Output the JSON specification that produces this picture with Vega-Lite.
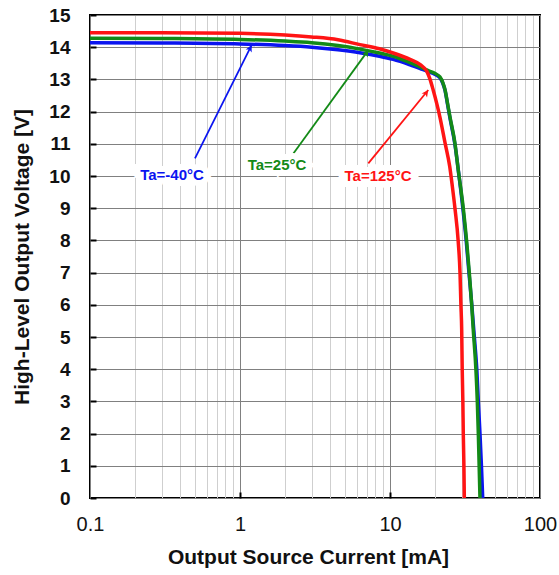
{
  "$schema": "https://vega.github.io/schema/vega-lite/v6.json",
  "width": 450,
  "height": 483,
  "autosize": {"type": "none"},
  "padding": {"left": 90, "top": 15, "right": 19, "bottom": 77},
  "background": "white",
  "config": {
    "view": {"stroke": "#000000", "strokeWidth": 2},
    "font": "Liberation Sans"
  },
  "datasets": {
    "curves": [
      {"series": "-40", "current": 0.1, "voltage": 14.14},
      {"series": "-40", "current": 0.3, "voltage": 14.13},
      {"series": "-40", "current": 1, "voltage": 14.1},
      {"series": "-40", "current": 2, "voltage": 14.05},
      {"series": "-40", "current": 3, "voltage": 14.0},
      {"series": "-40", "current": 4.5, "voltage": 13.92},
      {"series": "-40", "current": 6.3, "voltage": 13.83},
      {"series": "-40", "current": 8.5, "voltage": 13.72},
      {"series": "-40", "current": 10.5, "voltage": 13.62},
      {"series": "-40", "current": 13.6, "voltage": 13.45},
      {"series": "-40", "current": 16, "voltage": 13.33},
      {"series": "-40", "current": 18, "voltage": 13.24},
      {"series": "-40", "current": 20, "voltage": 13.15},
      {"series": "-40", "current": 21.5, "voltage": 13.05},
      {"series": "-40", "current": 22.5, "voltage": 12.88},
      {"series": "-40", "current": 23.3, "voltage": 12.65},
      {"series": "-40", "current": 24.2, "voltage": 12.22},
      {"series": "-40", "current": 25.1, "voltage": 11.8},
      {"series": "-40", "current": 27.1, "voltage": 10.98},
      {"series": "-40", "current": 28.6, "voltage": 10.15},
      {"series": "-40", "current": 30.6, "voltage": 9.0},
      {"series": "-40", "current": 32.2, "voltage": 8.0},
      {"series": "-40", "current": 33.6, "voltage": 7.0},
      {"series": "-40", "current": 35.1, "voltage": 6.0},
      {"series": "-40", "current": 36.5, "voltage": 5.0},
      {"series": "-40", "current": 37.9, "voltage": 4.0},
      {"series": "-40", "current": 38.8, "voltage": 3.0},
      {"series": "-40", "current": 39.8, "voltage": 2.0},
      {"series": "-40", "current": 40.7, "voltage": 1.0},
      {"series": "-40", "current": 41.5, "voltage": 0},
      {"series": "25", "current": 0.1, "voltage": 14.28},
      {"series": "25", "current": 0.3, "voltage": 14.27},
      {"series": "25", "current": 1, "voltage": 14.24},
      {"series": "25", "current": 2, "voltage": 14.19},
      {"series": "25", "current": 3, "voltage": 14.14},
      {"series": "25", "current": 4.5, "voltage": 14.05},
      {"series": "25", "current": 6.3, "voltage": 13.94},
      {"series": "25", "current": 8.5, "voltage": 13.82},
      {"series": "25", "current": 10.5, "voltage": 13.72},
      {"series": "25", "current": 13.6, "voltage": 13.52},
      {"series": "25", "current": 16, "voltage": 13.38},
      {"series": "25", "current": 18, "voltage": 13.27},
      {"series": "25", "current": 20, "voltage": 13.18},
      {"series": "25", "current": 21.5, "voltage": 13.08},
      {"series": "25", "current": 22.5, "voltage": 12.9},
      {"series": "25", "current": 23.3, "voltage": 12.67},
      {"series": "25", "current": 24.2, "voltage": 12.25},
      {"series": "25", "current": 25.1, "voltage": 11.84},
      {"series": "25", "current": 27.1, "voltage": 11.02},
      {"series": "25", "current": 28.5, "voltage": 10.19},
      {"series": "25", "current": 30.8, "voltage": 9.0},
      {"series": "25", "current": 32.45, "voltage": 7.96},
      {"series": "25", "current": 33.8, "voltage": 6.98},
      {"series": "25", "current": 35.06, "voltage": 5.99},
      {"series": "25", "current": 35.9, "voltage": 5.22},
      {"series": "25", "current": 37.4, "voltage": 3.98},
      {"series": "25", "current": 38.2, "voltage": 3.0},
      {"series": "25", "current": 38.8, "voltage": 2.0},
      {"series": "25", "current": 39.3, "voltage": 1.0},
      {"series": "25", "current": 39.8, "voltage": 0},
      {"series": "125", "current": 0.1, "voltage": 14.45},
      {"series": "125", "current": 0.3, "voltage": 14.45},
      {"series": "125", "current": 1, "voltage": 14.43},
      {"series": "125", "current": 2, "voltage": 14.38},
      {"series": "125", "current": 3, "voltage": 14.32},
      {"series": "125", "current": 4.5, "voltage": 14.23},
      {"series": "125", "current": 6.3, "voltage": 14.08},
      {"series": "125", "current": 8.5, "voltage": 13.95},
      {"series": "125", "current": 10.5, "voltage": 13.82},
      {"series": "125", "current": 13.6, "voltage": 13.62},
      {"series": "125", "current": 16, "voltage": 13.45},
      {"series": "125", "current": 17.6, "voltage": 13.25},
      {"series": "125", "current": 18.5, "voltage": 13.0},
      {"series": "125", "current": 19.4, "voltage": 12.67},
      {"series": "125", "current": 20.5, "voltage": 12.25},
      {"series": "125", "current": 21.5, "voltage": 11.84},
      {"series": "125", "current": 23.3, "voltage": 11.02},
      {"series": "125", "current": 25, "voltage": 10.3},
      {"series": "125", "current": 26, "voltage": 9.7},
      {"series": "125", "current": 27.1, "voltage": 9.0},
      {"series": "125", "current": 28.5, "voltage": 7.96},
      {"series": "125", "current": 29.3, "voltage": 6.98},
      {"series": "125", "current": 29.7, "voltage": 6.0},
      {"series": "125", "current": 30.06, "voltage": 5.22},
      {"series": "125", "current": 30.3, "voltage": 4.0},
      {"series": "125", "current": 30.6, "voltage": 3.0},
      {"series": "125", "current": 30.8, "voltage": 2.0},
      {"series": "125", "current": 31.1, "voltage": 1.0},
      {"series": "125", "current": 31.3, "voltage": 0}
    ],
    "arrows": [
      {"series": "-40", "current": 1.197, "voltage": 14.07, "current2": 0.501, "voltage2": 10.55},
      {"series": "25", "current": 7.17, "voltage": 13.91, "current2": 2.27, "voltage2": 10.7},
      {"series": "125", "current": 17.99, "voltage": 12.67, "current2": 7.17, "voltage2": 10.39}
    ],
    "labels": [
      {"series": "-40", "text": "Ta=-40°C", "current": 0.352, "voltage": 10.03},
      {"series": "25", "text": "Ta=25°C", "current": 1.766, "voltage": 10.34},
      {"series": "125", "text": "Ta=125°C", "current": 8.32, "voltage": 10.0}
    ]
  },
  "encoding": {
    "x": {
      "field": "current",
      "type": "quantitative",
      "scale": {"type": "log", "domain": [0.1, 100]},
      "axis": {
        "title": "Output Source Current [mA]",
        "titleFontSize": 21,
        "titleFontWeight": "bold",
        "titleColor": "#111111",
        "titleBaseline": "middle",
        "titleY": 59,
        "titleX": 218,
        "values": [0.1, 0.2, 0.3, 0.4, 0.5, 0.6, 0.7, 0.8, 0.9, 1, 2, 3, 4, 5, 6, 7, 8, 9, 10, 20, 30, 40, 50, 60, 70, 80, 90, 100],
        "format": ".1~f",
        "labelExpr": "indexof(['0.1','1','10','100'], datum.label) >= 0 ? datum.label : ''",
        "labelFontSize": 20,
        "labelColor": "#111111",
        "labelPadding": 22,
        "labelFlush": false,
        "labelOverlap": false,
        "domain": false,
        "grid": true,
        "gridColor": {"condition": {"test": "indexof([0.1, 1, 10, 100], datum.value) >= 0", "value": "#808080"}, "value": "#cfcfcf"},
        "gridWidth": 1,
        "gridOpacity": 1,
        "tickSize": -6,
        "tickWidth": 2,
        "tickColor": {"condition": {"test": "indexof([1, 10], datum.value) >= 0", "value": "#000000"}, "value": "transparent"}
      }
    },
    "y": {
      "field": "voltage",
      "type": "quantitative",
      "scale": {"domain": [0, 15], "nice": false},
      "axis": {
        "title": "High-Level Output Voltage [V]",
        "titleFontSize": 21,
        "titleFontWeight": "bold",
        "titleColor": "#111111",
        "titleBaseline": "middle",
        "titleX": -68,
        "values": [0, 1, 2, 3, 4, 5, 6, 7, 8, 9, 10, 11, 12, 13, 14, 15],
        "labelFontSize": 19,
        "labelFontWeight": "bold",
        "labelColor": "#111111",
        "labelPadding": 26,
        "labelFlush": false,
        "labelOverlap": false,
        "domain": false,
        "grid": true,
        "gridColor": "#808080",
        "gridOpacity": 1,
        "tickSize": -6,
        "tickWidth": 2,
        "tickColor": "#000000"
      }
    },
    "color": {
      "field": "series",
      "type": "nominal",
      "scale": {"domain": ["-40", "25", "125"], "range": ["#0a14f0", "#138a17", "#ff1414"]},
      "legend": null
    }
  },
  "layer": [
    {
      "data": {"name": "curves"},
      "mark": {"type": "line", "strokeWidth": 3.5, "interpolate": "monotone", "clip": true}
    },
    {
      "data": {"name": "arrows"},
      "mark": {"type": "rule", "strokeWidth": 1.8},
      "encoding": {
        "x2": {"field": "current2"},
        "y2": {"field": "voltage2"}
      }
    },
    {
      "data": {"name": "arrows"},
      "mark": {"type": "point", "shape": "M0,0L-0.5,1L0,0.75L0.5,1Z", "filled": true, "size": 180, "opacity": 1},
      "encoding": {
        "angle": {"field": "series", "type": "nominal", "scale": {"domain": ["-40", "25", "125"], "range": [27, 36, 39]}, "legend": null}
      }
    },
    {
      "data": {"name": "labels"},
      "mark": {"type": "text", "fontSize": 15, "fontWeight": "bold", "stroke": "white", "strokeWidth": 12, "align": "center", "baseline": "middle"},
      "encoding": {
        "text": {"field": "text"},
        "color": {"value": "white"}
      }
    },
    {
      "data": {"name": "labels"},
      "mark": {"type": "text", "fontSize": 15, "fontWeight": "bold", "align": "center", "baseline": "middle"},
      "encoding": {
        "text": {"field": "text"}
      }
    }
  ]
}
